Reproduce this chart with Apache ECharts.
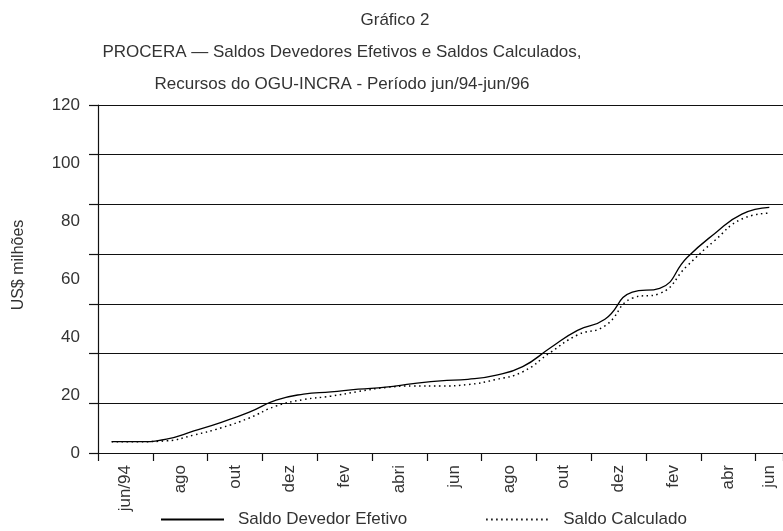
<!DOCTYPE html>
<html>
<head>
<meta charset="utf-8">
<script src="https://cdn.jsdelivr.net/npm/echarts@6/dist/echarts.min.js"></script>
<style>
html,body{margin:0;padding:0;background:#fff;}
#chart{width:783px;height:531px;}
</style>
</head>
<body>
<div id="chart"></div>
<script>
var months = ["jun/94","jul/94","ago/94","set/94","out/94","nov/94","dez/94","jan/95","fev/95","mar/95","abr/95","mai/95","jun/95","jul/95","ago/95","set/95","out/95","nov/95","dez/95","jan/96","fev/96","mar/96","abr/96","mai/96","jun/96"];
var tickLabels = ["jun/94","ago","out","dez","fev","abri","jun","ago","out","dez","fev","abr","jun"];
var saldoEfetivo = [3.9, 3.9, 4.8, 7.6, 10.6, 14.0, 18.2, 20.3, 21.1, 22.0, 22.7, 23.9, 24.9, 25.4, 26.8, 29.8, 36.2, 42.3, 46.1, 55.5, 56.8, 67.4, 75.6, 82.4, 84.7];
var saldoCalculado = [3.9, 3.9, 4.2, 6.2, 8.7, 12.0, 16.2, 18.4, 19.6, 21.2, 22.6, 23.1, 23.1, 23.6, 25.3, 28.0, 34.6, 40.7, 43.8, 53.4, 55.0, 64.5, 73.2, 80.7, 82.7];
var yTicks = [0, 20, 40, 60, 80, 100, 120];

var FONT = "'Liberation Sans', Arial, sans-serif";
var TXT = '#333';
var chart = echarts.init(document.getElementById('chart'), null, {renderer: 'canvas'});

function labelFor(v) {
  if (Math.abs(v - 24.5) < 1e-6) return tickLabels[tickLabels.length - 1];
  if (Math.abs(v - Math.round(v)) < 1e-6) {
    var r = Math.round(v);
    if (r % 2 === 1) {
      var idx = (r - 1) / 2;
      if (idx < tickLabels.length - 1) return tickLabels[idx];
    }
  }
  return '';
}

var option = {
  backgroundColor: '#fff',
  animation: false,
  grid: {left: 98, top: 105, width: 685, height: 348, containLabel: false},
  graphic: [
    {type: 'text', x: 395, y: 20, style: {text: 'Gráfico 2', font: '17px ' + FONT, fill: TXT, textAlign: 'center', textVerticalAlign: 'middle'}},
    {type: 'text', x: 342, y: 52, style: {text: 'PROCERA — Saldos Devedores Efetivos e Saldos Calculados,', font: '17px ' + FONT, fill: TXT, textAlign: 'center', textVerticalAlign: 'middle'}},
    {type: 'text', x: 342, y: 84, style: {text: 'Recursos do OGU-INCRA - Período jun/94-jun/96', font: '17px ' + FONT, fill: TXT, textAlign: 'center', textVerticalAlign: 'middle'}},
    {type: 'text', x: 19, y: 265, rotation: Math.PI / 2, style: {text: 'US$ milhões', font: '16px ' + FONT, fill: TXT, textAlign: 'center', textVerticalAlign: 'middle'}}
  ],
  legend: {
    left: 160, top: 511, padding: 0,
    itemWidth: 63, itemHeight: 14, itemGap: 78,
    itemStyle: {opacity: 0},
    textStyle: {fontFamily: FONT, fontSize: 17, color: TXT, padding: [0, 0, 0, 9]},
    data: ['Saldo Devedor Efetivo', 'Saldo Calculado']
  },
  xAxis: [
    {
      type: 'category', data: months, boundaryGap: true,
      axisLine: {show: true, lineStyle: {color: '#111', width: 1.2}},
      axisTick: {show: true, interval: 1, length: 8, lineStyle: {color: '#111', width: 1.2}},
      axisLabel: {show: false},
      splitLine: {show: false}
    },
    {
      type: 'value', min: 0, max: 25, interval: 0.5, position: 'bottom',
      axisLine: {show: false}, axisTick: {show: false}, splitLine: {show: false},
      axisLabel: {show: true, rotate: 90, margin: 12, fontFamily: FONT, fontSize: 17, color: TXT, formatter: labelFor, hideOverlap: false}
    }
  ],
  yAxis: [
    {
      type: 'value', min: yTicks[0], max: yTicks[yTicks.length - 1], interval: 20,
      axisLine: {show: false}, axisTick: {show: false}, splitLine: {show: false},
      axisLabel: {margin: 18, fontFamily: FONT, fontSize: 17, color: TXT}
    },
    {
      type: 'value', min: 0, max: 7, interval: 1, position: 'left',
      axisLine: {show: true, lineStyle: {color: '#111', width: 1.2}},
      axisTick: {show: true, length: 9, lineStyle: {color: '#111', width: 1.2}},
      axisLabel: {show: false},
      splitLine: {show: true, lineStyle: {color: '#111', width: 1.2}}
    }
  ],
  series: [
    {
      name: 'Saldo Devedor Efetivo', type: 'line', xAxisIndex: 0, yAxisIndex: 0,
      data: saldoEfetivo, smooth: 0.5, symbol: 'none',
      lineStyle: {color: '#000', width: 1.3, type: 'solid'},
      itemStyle: {color: '#000'}
    },
    {
      name: 'Saldo Calculado', type: 'line', xAxisIndex: 0, yAxisIndex: 0,
      data: saldoCalculado, smooth: 0.5, symbol: 'none',
      lineStyle: {color: '#000', width: 1.5, type: [1.5, 3.5]},
      itemStyle: {color: '#000'}
    }
  ]
};
chart.setOption(option);
</script>
</body>
</html>
